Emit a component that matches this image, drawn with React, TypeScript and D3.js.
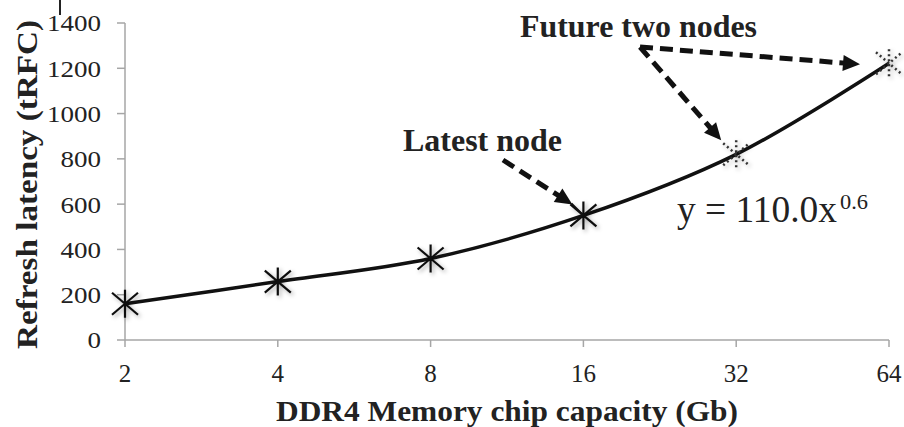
import React from "react";
import * as d3 from "d3";

const capacities = [2, 4, 8, 16, 32, 64];
const latencies = [160, 258, 360, 550, 820, 1222];
const future = [false, false, false, false, true, true];
const yTicks = [0, 200, 400, 600, 800, 1000, 1200, 1400];
const xTickLabels = ["2", "4", "8", "16", "32", "64"];

const W = 904;
const H = 427;
const FONT = "'Liberation Serif', 'Times New Roman', serif";

export default function App() {
  const x = d3.scaleLog().base(2).domain([2, 64]).range([125, 889]);
  const y = d3.scaleLinear().domain([0, 1400]).range([340, 23]);
  const pts = capacities.map((c, i) => ({ c, v: latencies[i], f: future[i] }));
  const line = d3
    .line<{ c: number; v: number }>()
    .x((d) => x(d.c))
    .y((d) => y(d.v))
    .curve(d3.curveCatmullRom.alpha(0.5));

  const star = (cx: number, cy: number) => {
    const r = 14;
    const dx = 13;
    const dy = 11;
    return `M${cx},${cy - r}L${cx},${cy + r}M${cx - dx},${cy - dy}L${cx + dx},${cy + dy}M${cx - dx},${cy + dy}L${cx + dx},${cy - dy}`;
  };

  const arrow = (x1: number, y1: number, x2: number, y2: number, key: string) => {
    const len = Math.hypot(x2 - x1, y2 - y1);
    const ux = (x2 - x1) / len;
    const uy = (y2 - y1) / len;
    const hl = 17;
    const hw = 8;
    const bx = x2 - ux * hl;
    const by = y2 - uy * hl;
    const px = -uy;
    const py = ux;
    return (
      <g key={key}>
        <line
          x1={x1}
          y1={y1}
          x2={bx + ux * 2}
          y2={by + uy * 2}
          stroke="#111"
          strokeWidth={5}
          strokeDasharray="13 7"
        />
        <polygon
          points={`${x2},${y2} ${bx + px * hw},${by + py * hw} ${bx - px * hw},${by - py * hw}`}
          fill="#111"
        />
      </g>
    );
  };

  const p16 = { x: x(16), y: y(550) };
  const p32 = { x: x(32), y: y(820) };
  const p64 = { x: x(64), y: y(1222) };
  const futTail = { x: 640, y: 47 };
  const latTail = { x: 503, y: 160 };

  return (
    <svg
      width={W}
      height={H}
      style={{ position: "absolute", left: 0, top: 0, background: "#fff" }}
      fontFamily={FONT}
    >
      <defs>
        <filter id="shadow" x="-50%" y="-50%" width="200%" height="200%">
          <feDropShadow dx="2" dy="2" stdDeviation="2" floodColor="#000" floodOpacity="0.35" />
        </filter>
      </defs>
      <rect x={0} y={0} width={W} height={H} fill="#fff" />
      <rect x={59} y={0} width={2} height={15} fill="#222" />

      {/* axes */}
      <line x1={125} y1={y(0)} x2={125} y2={y(1400)} stroke="#a6a6a6" strokeWidth={1.5} />
      <line x1={x(2)} y1={y(0)} x2={x(64)} y2={y(0)} stroke="#a6a6a6" strokeWidth={1.5} />
      {yTicks.map((t) => (
        <g key={"yt" + t}>
          <line x1={117} x2={125} y1={y(t)} y2={y(t)} stroke="#a6a6a6" strokeWidth={1.5} />
          <text
            x={101}
            y={y(t)}
            dy="0.35em"
            textAnchor="end"
            fontSize={24}
            fill="#222"
            textLength={String(t).length * 13.5}
            lengthAdjust="spacingAndGlyphs"
          >
            {t}
          </text>
        </g>
      ))}
      {capacities.map((c, i) => (
        <g key={"xt" + c}>
          <line x1={x(c)} x2={x(c)} y1={y(0)} y2={y(0) + 7} stroke="#a6a6a6" strokeWidth={1.5} />
          <text x={x(c)} y={382} textAnchor="middle" fontSize={25} fill="#222">
            {xTickLabels[i]}
          </text>
        </g>
      ))}

      {/* axis titles */}
      <text
        x={507}
        y={421}
        textAnchor="middle"
        fontSize={29}
        fontWeight="bold"
        fill="#222"
        textLength={462}
        lengthAdjust="spacingAndGlyphs"
      >
        DDR4 Memory chip capacity (Gb)
      </text>
      <text
        transform={`translate(37,${(349 + 20) / 2}) rotate(-90)`}
        textAnchor="middle"
        fontSize={30}
        fontWeight="bold"
        fill="#222"
        textLength={329}
        lengthAdjust="spacingAndGlyphs"
      >
        Refresh latency (tRFC)
      </text>

      {/* curve */}
      <path d={line(pts) || ""} fill="none" stroke="#111" strokeWidth={3.5} />

      {/* markers */}
      {pts.map((p) => (
        <path
          key={"m" + p.c}
          d={star(x(p.c), y(p.v))}
          stroke={p.f ? "#333" : "#111"}
          strokeWidth={p.f ? 2.5 : 2.2}
          strokeDasharray={p.f ? "2 3" : undefined}
          fill="none"
          filter="url(#shadow)"
        />
      ))}

      {/* annotations */}
      {arrow(futTail.x, futTail.y, p64.x - 29, p64.y + 1, "a1")}
      {arrow(futTail.x, futTail.y, p32.x - 15, p32.y - 14, "a2")}
      {arrow(latTail.x, latTail.y, p16.x - 11, p16.y - 11, "a3")}
      <line x1={p16.x - 12} y1={p16.y - 12} x2={p16.x} y2={p16.y} stroke="#111" strokeWidth={2} />

      <text
        x={520}
        y={37}
        fontSize={32}
        fontWeight="bold"
        fill="#222"
        textLength={237}
        lengthAdjust="spacingAndGlyphs"
      >
        Future two nodes
      </text>
      <text
        x={403}
        y={151}
        fontSize={32}
        fontWeight="bold"
        fill="#222"
        textLength={159}
        lengthAdjust="spacingAndGlyphs"
      >
        Latest node
      </text>
      <text x={677} y={222} fontSize={38} fill="#222">
        <tspan textLength={160} lengthAdjust="spacingAndGlyphs">y = 110.0x</tspan>
        <tspan x={840} y={209} fontSize={22} textLength={28} lengthAdjust="spacingAndGlyphs">0.6</tspan>
      </text>
    </svg>
  );
}
